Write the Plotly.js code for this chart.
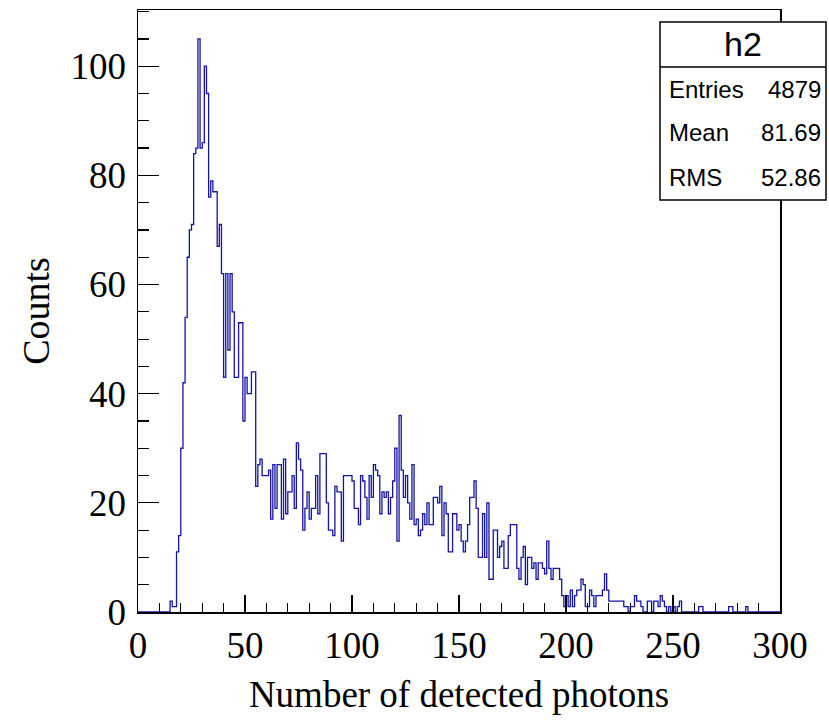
<!DOCTYPE html>
<html>
<head>
<meta charset="utf-8">
<script src="https://cdn.plot.ly/plotly-3.0.1.min.js"></script>
<style>html,body{margin:0;padding:0;background:#fff;}</style>
</head>
<body>
<div id="chart" style="width:829px;height:720px;"></div>
<script>
// Histogram "h2": 300 bins of width 1 on [0, 300)
const binLow = 0;
const binWidth = 1;
const counts = [
  0,0,0,0,0,0,0,0,0,0, 0,0,0,0,0,2,1,1,11,14,
  30,42,54,65,70,71,84,85,105,85, 86,100,95,76,79,77,77,67,71,62,
  43,62,48,62,55,43,43,53,53,35, 43,40,40,44,44,23,27,28,25,25,
  25,26,17,27,19,27,27,17,28,18, 22,22,25,19,31,28,26,15,19,22,
  17,19,19,25,18,29,29,29,20,15, 15,14,23,22,22,13,25,25,25,25,
  24,19,19,16,25,24,21,17,25,21, 27,26,25,18,22,21,22,18,21,24,
  30,13,36,26,21,25,20,17,27,16, 17,14,15,18,16,20,16,16,21,21,
  20,23,14,20,18,11,11,18,18,15, 16,13,11,13,16,21,21,24,19,10,
  10,18,10,20,6,6,15,15,10,12, 13,8,8,14,16,16,16,8,6,10,
  12,5,10,10,8,9,6,9,9,8, 7,13,8,6,8,8,8,6,3,1,
  3,1,4,1,3,4,4,6,5,1, 1,4,3,1,3,3,3,4,7,4,
  2,2,2,2,2,2,2,1,1,0, 1,1,3,2,2,1,0,0,2,2,
  0,2,2,1,3,2,1,0,1,0, 1,0,1,2,0,0,0,0,0,0,
  0,0,1,1,0,0,0,0,0,0, 0,0,0,0,0,0,1,1,0,0,
  0,0,0,0,1,0,0,0,0,0, 0,0,0,0,0,0,0,0,0,0
];
const xTickVals = [0, 50, 100, 150, 200, 250, 300];
const yTickVals = [0, 20, 40, 60, 80, 100];
const statsTitle = "h2";
const statsNames = ["Entries", "Mean", "RMS"];
const statsValues = ["4879", "81.69", "52.86"];

// step outline from bin edges
const xs = [], ys = [];
for (let i = 0; i < counts.length; i++) {
  xs.push(binLow + i * binWidth);
  ys.push(counts[i]);
}
xs.push(binLow + counts.length * binWidth);
ys.push(counts[counts.length - 1]);

const trace = {
  type: 'scatter', mode: 'lines',
  x: xs, y: ys,
  line: {shape: 'hv', color: '#1414a6', width: 1.3},
  hoverinfo: 'x+y'
};

const serif = 'Liberation Serif, Times New Roman, serif';
const sans = 'Liberation Sans, Arial, sans-serif';

const L = 138, R = 780, T = 10, B = 612;
const px = v => (v - L) / (R - L);
const py = v => (B - v) / (B - T);

const shapes = [
  {type: 'rect', xref: 'paper', yref: 'paper', x0: px(660), x1: px(826), y0: py(200), y1: py(22),
   line: {color: 'black', width: 1.5}, fillcolor: 'white', layer: 'above'},
  {type: 'line', xref: 'paper', yref: 'paper', x0: px(660), x1: px(826), y0: py(67), y1: py(67),
   line: {color: 'black', width: 1.3}, layer: 'above'}
];
const annotations = [
  {xref: 'paper', yref: 'paper', x: px(743), y: py(44), text: statsTitle, showarrow: false,
   xanchor: 'center', yanchor: 'middle', font: {family: sans, size: 34, color: 'black'}}
];
const rowY = [89, 133, 177];
for (let i = 0; i < statsNames.length; i++) {
  annotations.push({xref: 'paper', yref: 'paper', x: px(667), y: py(rowY[i]), text: statsNames[i],
    showarrow: false, xanchor: 'left', yanchor: 'middle', font: {family: sans, size: 24, color: 'black'}});
  annotations.push({xref: 'paper', yref: 'paper', x: px(823), y: py(rowY[i]), text: statsValues[i],
    showarrow: false, xanchor: 'right', yanchor: 'middle', font: {family: sans, size: 24, color: 'black'}});
}

const layout = {
  width: 829, height: 720,
  margin: {l: L, r: 829 - R, t: T, b: 720 - B, pad: 0},
  paper_bgcolor: 'white', plot_bgcolor: 'white',
  showlegend: false,
  xaxis: {
    range: [0, 300], showgrid: false, zeroline: false,
    showline: true, linecolor: 'black', linewidth: 1.5, mirror: true,
    ticks: 'inside', ticklen: 17, tickwidth: 1.3, tickcolor: 'black',
    tickvals: xTickVals, ticktext: xTickVals.map(String),
    minor: {dtick: 10, tick0: 0, ticks: 'inside', ticklen: 9, tickwidth: 1.2, tickcolor: 'black'},
    ticklabelstandoff: 0,
    tickfont: {family: serif, size: 37, color: 'black'},
    title: {text: 'Number of detected photons', font: {family: serif, size: 37, color: 'black'}, standoff: 16}
  },
  yaxis: {
    range: [0, 110.3], showgrid: false, zeroline: false,
    showline: true, linecolor: 'black', linewidth: 1.5, mirror: true,
    ticks: 'inside', ticklen: 21, tickwidth: 1.3, tickcolor: 'black',
    tickvals: yTickVals, ticktext: yTickVals.map(String),
    minor: {dtick: 5, tick0: 0, ticks: 'inside', ticklen: 11, tickwidth: 1.2, tickcolor: 'black'},
    ticklabelstandoff: 3,
    tickfont: {family: serif, size: 37, color: 'black'},
    title: {text: 'Counts', font: {family: serif, size: 38, color: 'black'}, standoff: 9}
  },
  shapes: shapes,
  annotations: annotations
};

Plotly.newPlot('chart', [trace], layout, {displayModeBar: false, staticPlot: true});
</script>
</body>
</html>
